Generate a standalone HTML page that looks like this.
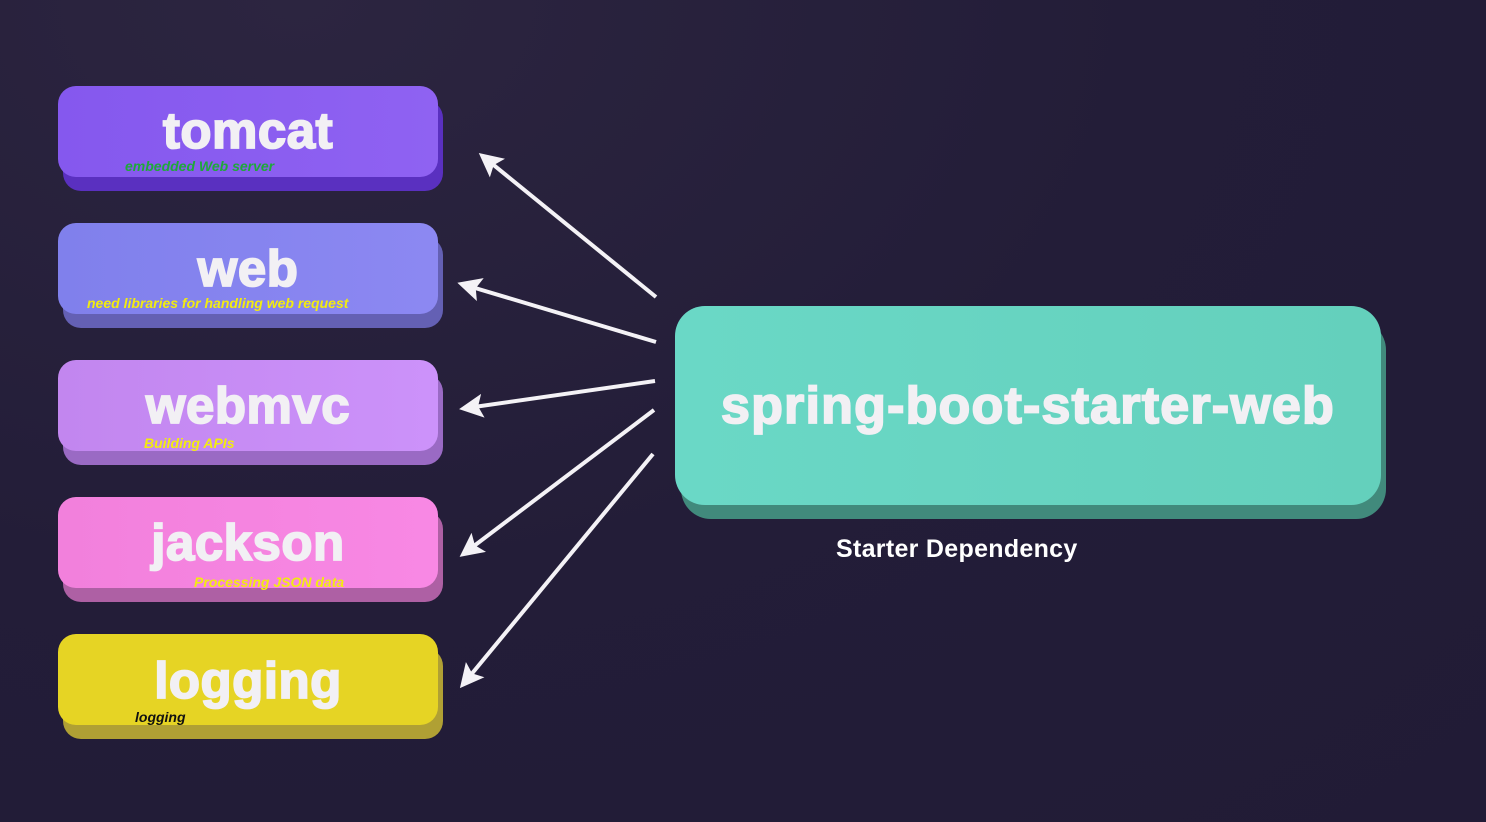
<!DOCTYPE html>
<html><head><meta charset="utf-8"><style>
*{margin:0;padding:0;box-sizing:border-box}
body{width:1486px;height:822px;overflow:hidden;background:radial-gradient(ellipse at 20% 0%,#2c2540 0%,#231d38 50%,#211b36 100%);font-family:"Liberation Sans",sans-serif;position:relative}
.b{position:absolute;border-radius:18px}
.t{position:absolute;color:#f2f0f4;font-weight:bold;font-size:51px;text-align:center;letter-spacing:0.5px;-webkit-text-stroke:1.8px #f2f0f4}
.s{position:absolute;font-weight:bold;font-style:italic;font-size:14px;white-space:nowrap}
</style></head><body>
<div class="b" style="left:63px;top:100px;width:380px;height:91px;background:#5a30c0"></div>
<div class="b" style="left:58px;top:86px;width:380px;height:91px;background:linear-gradient(90deg,#8558ee,#8f62f2)"></div>
<div class="t" style="left:58px;top:101px;width:380px">tomcat</div>
<div class="s" style="left:125px;top:158px;color:#1fa83a">embedded Web server</div>

<div class="b" style="left:63px;top:237px;width:380px;height:91px;background:#6460b4"></div>
<div class="b" style="left:58px;top:223px;width:380px;height:91px;background:linear-gradient(90deg,#8080ec,#8c88f2)"></div>
<div class="t" style="left:58px;top:239px;width:380px">web</div>
<div class="s" style="left:87px;top:295px;color:#f2ec10">need libraries for handling web request</div>

<div class="b" style="left:63px;top:374px;width:380px;height:91px;background:#9a6ac4"></div>
<div class="b" style="left:58px;top:360px;width:380px;height:91px;background:linear-gradient(90deg,#c286ef,#cc92fa)"></div>
<div class="t" style="left:58px;top:376px;width:380px">webmvc</div>
<div class="s" style="left:144px;top:435px;color:#f2ec10">Building APIs</div>

<div class="b" style="left:63px;top:511px;width:380px;height:91px;background:#ae60a4"></div>
<div class="b" style="left:58px;top:497px;width:380px;height:91px;background:linear-gradient(90deg,#f280dc,#f888e4)"></div>
<div class="t" style="left:58px;top:513px;width:380px">jackson</div>
<div class="s" style="left:194px;top:574px;color:#f2ec10">Processing JSON data</div>

<div class="b" style="left:63px;top:648px;width:380px;height:91px;background:#b0a034"></div>
<div class="b" style="left:58px;top:634px;width:380px;height:91px;background:#e6d424"></div>
<div class="t" style="left:58px;top:651px;width:380px">logging</div>
<div class="s" style="left:135px;top:709px;color:#111">logging</div>

<div class="b" style="left:681px;top:320px;width:705px;height:199px;border-radius:30px;background:#418a7c"></div>
<div class="b" style="left:675px;top:306px;width:706px;height:199px;border-radius:30px;background:linear-gradient(90deg,#6ad8c6,#64d0bc)"></div>
<div class="t" style="left:675px;top:376px;width:706px;font-size:52px;letter-spacing:1.2px">spring-boot-starter-web</div>
<div style="position:absolute;left:836px;top:535px;color:#fff;font-weight:bold;font-size:25px;letter-spacing:0.3px">Starter Dependency</div>

<svg style="position:absolute;left:0;top:0" width="1486" height="822">
<defs><marker id="a" markerWidth="6" markerHeight="6" refX="4" refY="3" orient="auto" markerUnits="strokeWidth"><path d="M0,0 L6,3 L0,6 L1.2,3 z" fill="#f4f2f6"/></marker></defs>
<g stroke="#f4f2f6" stroke-width="4" fill="none" marker-end="url(#a)">
<line x1="656" y1="297" x2="485" y2="158"/>
<line x1="656" y1="342" x2="465" y2="285"/>
<line x1="655" y1="381" x2="467" y2="408"/>
<line x1="654" y1="410" x2="466" y2="552"/>
<line x1="653" y1="454" x2="465" y2="682"/>
</g></svg>
</body></html>
